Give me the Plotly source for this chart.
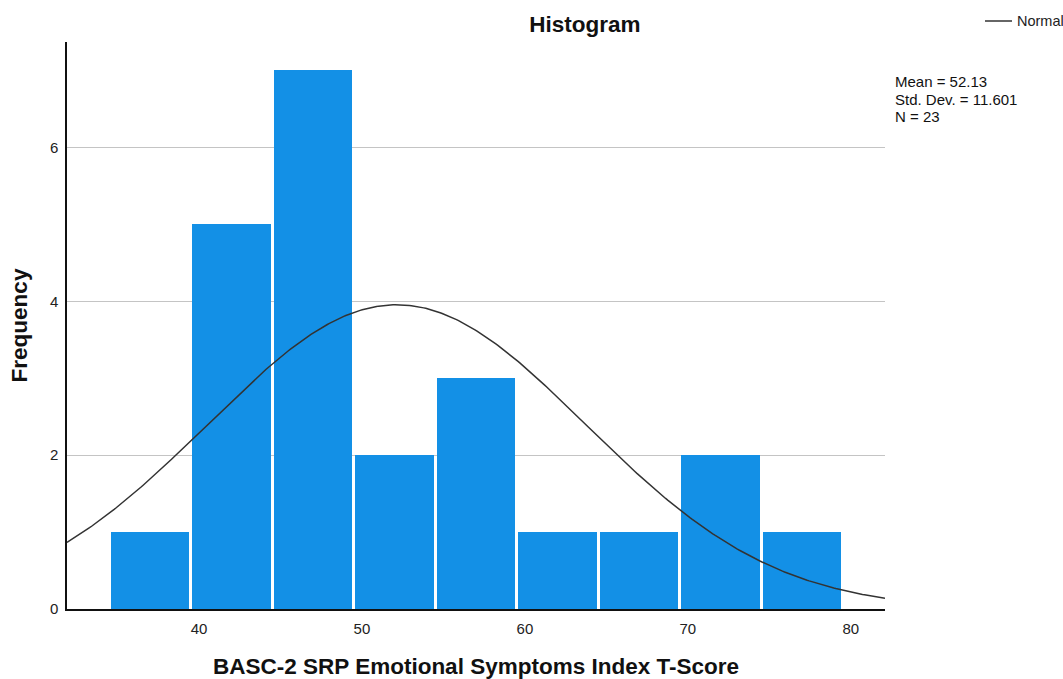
import numpy as np
import plotly.graph_objects as go

# Data
bin_centers = [37, 42, 47, 52, 57, 62, 67, 72, 77]
counts = [1, 5, 7, 2, 3, 1, 1, 2, 1]
bin_width = 5
mean_val = 52.13
std_val = 11.601
n_val = 23
x_ticks = [40, 50, 60, 70, 80]
y_ticks = [0, 2, 4, 6]
stats_lines = [f"Mean = {mean_val:.2f}", f"Std. Dev. = {std_val:.3f}", f"N = {n_val}"]
legend_label = "Normal"

x_range = [31.9, 82.1]
y_range = [0, 7.37]

# Normal curve defined by displayed mean / std / N, scaled to bin width
xs = np.linspace(x_range[0], x_range[1], 400)
ys = n_val * bin_width / (std_val * np.sqrt(2 * np.pi)) * np.exp(-0.5 * ((xs - mean_val) / std_val) ** 2)

font_family = "Liberation Sans, Arial, sans-serif"
big = 22.5
curve_color = "#333333"

# plot-area pixel geometry (for placing side texts)
L, R, T, B, W, H = 67, 178, 42, 70, 1063, 679
pw, ph = W - L - R, H - T - B
def px_x(px):
    return (px - L) / pw
def px_y(py):
    return (H - B - py) / ph

fig = go.Figure()
fig.add_trace(go.Bar(
    x=bin_centers, y=counts, width=bin_width * 0.962,
    marker=dict(color="#1390e6", line=dict(width=0)),
    showlegend=False, hoverinfo="x+y",
))
fig.add_trace(go.Scatter(
    x=xs, y=ys, mode="lines", name=legend_label,
    line=dict(color=curve_color, width=1.5),
    showlegend=False,
))

fig.update_layout(
    width=W, height=H,
    margin=dict(l=L, r=R, t=T, b=B, autoexpand=False),
    plot_bgcolor="white", paper_bgcolor="white",
    font=dict(family=font_family, color="#222222", size=15),
    title=dict(text="<b>Histogram</b>", x=585 / W, xanchor="center", xref="container",
               y=1 - 24 / H, yanchor="middle", yref="container",
               font=dict(size=big, color="#111111")),
    xaxis=dict(range=x_range, tickvals=x_ticks, showgrid=False, zeroline=False,
               automargin=False,
               showline=True, linecolor="#111111", linewidth=1.5, ticks="",
               ticklabelstandoff=5, tickfont=dict(size=15, color="#222222"),
               title=dict(text="<b>BASC-2 SRP Emotional Symptoms Index T-Score</b>",
                          font=dict(size=big, color="#111111"), standoff=24)),
    yaxis=dict(range=y_range, tickvals=y_ticks, showgrid=True, gridcolor="#c4c4c4",
               automargin=False,
               gridwidth=1, zeroline=False, showline=True, linecolor="#111111",
               linewidth=1.5, ticks="", ticklabelstandoff=4,
               tickfont=dict(size=15, color="#222222"),
               title=dict(text="<b>Frequency</b>", font=dict(size=big, color="#111111"),
                          standoff=16)),
    bargap=0,
)

# Legend (drawn as a key line + label at the top right)
fig.add_shape(type="line", xref="paper", yref="paper",
              x0=px_x(985), x1=px_x(1012), y0=px_y(21), y1=px_y(21),
              line=dict(color=curve_color, width=1.5))
fig.add_annotation(text=legend_label, xref="paper", yref="paper",
                   x=px_x(1015), y=px_y(21), xanchor="left", yanchor="middle",
                   showarrow=False, font=dict(size=14.5, color="#222222"))

for line, py in zip(stats_lines, [81, 99, 116]):
    fig.add_annotation(
        text=line, xref="paper", yref="paper", x=px_x(893), y=px_y(py),
        xanchor="left", yanchor="middle", align="left", showarrow=False,
        font=dict(size=15, color="#111111"),
    )

fig.write_html("out.html")
